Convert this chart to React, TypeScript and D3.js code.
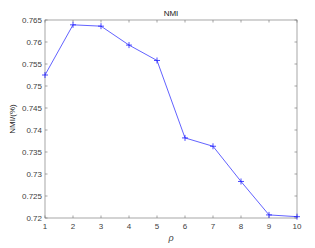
import React from "react";
import * as d3 from "d3";

const rhoValues = [1, 2, 3, 4, 5, 6, 7, 8, 9, 10];
const nmiValues = [0.7525, 0.7639, 0.7636, 0.7593, 0.7558, 0.7382, 0.7363, 0.7283, 0.7207, 0.7203];
const yTicks = [0.72, 0.725, 0.73, 0.735, 0.74, 0.745, 0.75, 0.755, 0.76, 0.765];
const xTicks = [1, 2, 3, 4, 5, 6, 7, 8, 9, 10];
const titleText = "NMI";
const yLabelText = "NMI/(%)";
const xLabelText = "ρ";

export default function App() {
  const W = 315, H = 248;
  const left = 45, right = 297, top = 20, bottom = 218;
  const x = d3.scaleLinear().domain([1, 10]).range([left, right]);
  const y = d3.scaleLinear().domain([0.72, 0.765]).range([bottom, top]);
  const line = d3.line<number>().x((_, i) => x(rhoValues[i])).y((d) => y(d));
  const axisColor = "#808080";
  const textColor = "#404040";
  const font = "Liberation Sans, Arial, sans-serif";
  const tl = 2.5;
  return (
    <svg width={W} height={H} style={{ position: "absolute", left: 0, top: 0, background: "#fff" }}>
      <rect x={0} y={0} width={W} height={H} fill="#ffffff" />
      <rect x={left} y={top} width={right - left} height={bottom - top} fill="#ffffff" stroke={axisColor} strokeWidth={0.7} />
      {xTicks.map((t) => (
        <g key={"x" + t}>
          <line x1={x(t)} x2={x(t)} y1={bottom} y2={bottom - tl} stroke={axisColor} strokeWidth={0.7} />
          <line x1={x(t)} x2={x(t)} y1={top} y2={top + tl} stroke={axisColor} strokeWidth={0.7} />
          <text x={x(t)} y={bottom + 11} textAnchor="middle" fontSize={8} fontFamily={font} fill={textColor}>{t}</text>
        </g>
      ))}
      {yTicks.map((t) => (
        <g key={"y" + t}>
          <line x1={left} x2={left + tl} y1={y(t)} y2={y(t)} stroke={axisColor} strokeWidth={0.7} />
          <line x1={right} x2={right - tl} y1={y(t)} y2={y(t)} stroke={axisColor} strokeWidth={0.7} />
          <text x={left - 3} y={y(t) + 3} textAnchor="end" fontSize={8} fontFamily={font} fill={textColor}>{String(t)}</text>
        </g>
      ))}
      <path d={line(nmiValues) || ""} fill="none" stroke="#3a3aff" strokeWidth={0.8} />
      {nmiValues.map((v, i) => (
        <g key={"m" + i} stroke="#2020ff" strokeWidth={0.8}>
          <line x1={x(rhoValues[i]) - 3} x2={x(rhoValues[i]) + 3} y1={y(v)} y2={y(v)} />
          <line x1={x(rhoValues[i])} x2={x(rhoValues[i])} y1={y(v) - 3} y2={y(v) + 3} />
        </g>
      ))}
      <text x={(left + right) / 2} y={16} textAnchor="middle" fontSize={8} fontFamily={font} fill="#202020">{titleText}</text>
      <text x={(left + right) / 2} y={241} textAnchor="middle" fontSize={9} fontStyle="italic" fontFamily={font} fill={textColor}>{xLabelText}</text>
      <text transform={`translate(15,${(top + bottom) / 2}) rotate(-90)`} textAnchor="middle" fontSize={8} fontFamily={font} fill="#202020">{yLabelText}</text>
    </svg>
  );
}
